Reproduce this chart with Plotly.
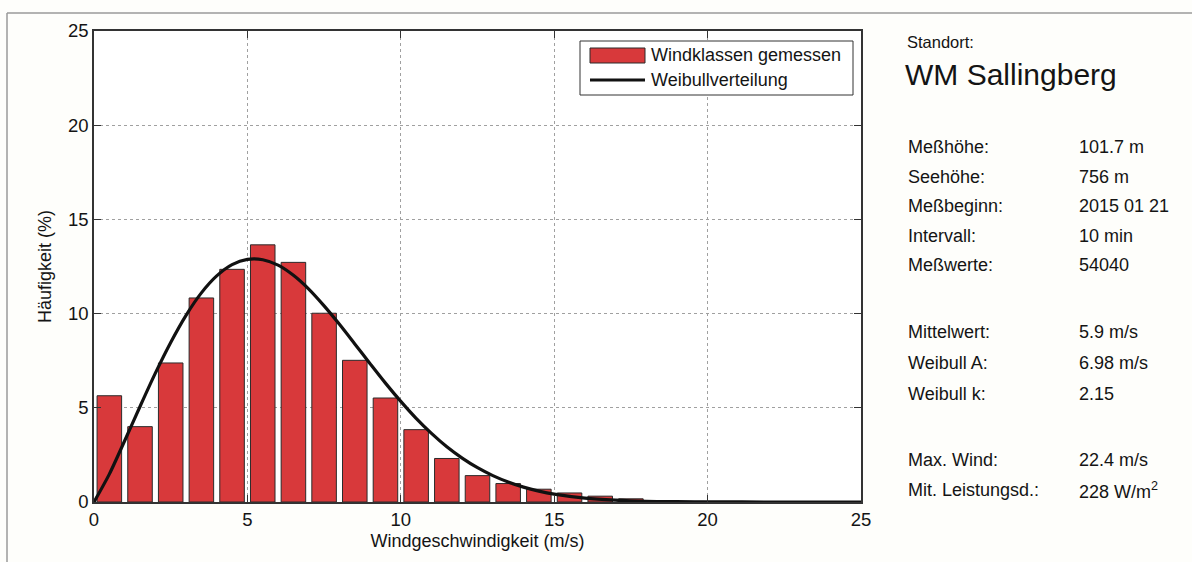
import plotly.graph_objects as go

# Wind speed classes (bin centres, m/s) and measured frequency (%)
wind_classes = [0.5, 1.5, 2.5, 3.5, 4.5, 5.5, 6.5, 7.5, 8.5, 9.5, 10.5, 11.5,
                12.5, 13.5, 14.5, 15.5, 16.5, 17.5, 18.5, 19.5, 20.5, 21.5,
                22.5, 23.5, 24.5]
measured_freq = [5.64, 4.0, 7.38, 10.83, 12.35, 13.65, 12.72, 10.02, 7.52, 5.52,
                 3.84, 2.31, 1.4, 0.98, 0.68, 0.48, 0.31, 0.17, 0.06, 0.03,
                 0.01, 0.01, 0.0, 0.0, 0.0]

# Weibull distribution curve (%)
weibull_x = [0, 0.5, 1, 1.5, 2, 2.5, 3, 3.5, 4, 4.5, 5, 5.5, 6, 6.5, 7, 7.5, 8,
             8.5, 9, 9.5, 10, 10.5, 11, 11.5, 12, 12.5, 13, 13.5, 14, 14.5, 15,
             16, 17, 18, 19, 20, 22, 25]
weibull_y = [0, 1.48, 3.25, 5.07, 6.84, 8.47, 9.91, 11.10, 12.00, 12.60, 12.88,
             12.86, 12.57, 12.03, 11.30, 10.41, 9.43, 8.39, 7.34, 6.31, 5.34,
             4.44, 3.64, 2.93, 2.33, 1.82, 1.40, 1.06, 0.79, 0.58, 0.42,
             0.21, 0.10, 0.04, 0.02, 0.01, 0.0, 0.0]

axis_ticks = [0, 5, 10, 15, 20, 25]

# Station information panel
site_caption = "Standort:"
site_name = "WM Sallingberg"
info_groups = [
    [("Meßhöhe:", "101.7 m"), ("Seehöhe:", "756 m"), ("Meßbeginn:", "2015 01 21"),
     ("Intervall:", "10 min"), ("Meßwerte:", "54040")],
    [("Mittelwert:", "5.9 m/s"), ("Weibull A:", "6.98 m/s"), ("Weibull k:", "2.15")],
    [("Max. Wind:", "22.4 m/s"), ("Mit. Leistungsd.:", "228 W/m<sup>2</sup>")],
]
legend_labels = ["Windklassen gemessen", "Weibullverteilung"]

# ---- layout geometry (pixels) ----
W, H = 1192, 562
PL, PR, PT, PB = 94, 861, 31, 502
FONT = "Liberation Sans, Arial, sans-serif"
TXT = "#141414"
BAR_COLOR = "#d8393b"
FS = 18


def fx(px):
    return (px - PL) / (PR - PL)


def fy(py):
    return (PB - py) / (PB - PT)


fig = go.Figure()
fig.add_trace(go.Bar(
    x=wind_classes, y=measured_freq, width=0.8,
    marker=dict(color=BAR_COLOR, line=dict(color="#2b2b2b", width=1)),
    name=legend_labels[0], showlegend=False,
))
fig.add_trace(go.Scatter(
    x=weibull_x, y=weibull_y, mode="lines",
    line=dict(color="#111111", width=3.2, shape="spline", smoothing=0.8),
    name=legend_labels[1], showlegend=False,
))

axis_common = dict(
    range=[0, 25], tickvals=axis_ticks, showgrid=True,
    gridcolor="#a0a0a0", griddash="dot", gridwidth=1,
    showline=True, mirror="ticks", linecolor="#333333", linewidth=1.5,
    ticks="inside", ticklen=7, tickcolor="#333333", zeroline=False,
    tickfont=dict(family=FONT, size=FS + 0.5, color=TXT),
)
fig.update_xaxes(**axis_common,
                 title=dict(text="Windgeschwindigkeit (m/s)", standoff=5,
                            font=dict(family=FONT, size=FS, color=TXT)))
fig.update_yaxes(**axis_common,
                 title=dict(text="Häufigkeit (%)", standoff=12,
                            font=dict(family=FONT, size=FS, color=TXT)))

shapes = []
# outer frame lines (top and left)
shapes.append(dict(type="line", xref="paper", yref="paper",
                   x0=fx(7), x1=fx(W), y0=fy(13), y1=fy(13),
                   line=dict(color="#9a9a9a", width=1.5)))
shapes.append(dict(type="line", xref="paper", yref="paper",
                   x0=fx(7), x1=fx(7), y0=fy(13), y1=fy(H),
                   line=dict(color="#9a9a9a", width=1.5)))
# legend box
shapes.append(dict(type="rect", xref="paper", yref="paper",
                   x0=fx(580), x1=fx(853), y0=fy(41), y1=fy(95),
                   fillcolor="white", line=dict(color="#333333", width=1)))
shapes.append(dict(type="rect", xref="paper", yref="paper",
                   x0=fx(590), x1=fx(645), y0=fy(48), y1=fy(63),
                   fillcolor=BAR_COLOR, line=dict(color="#2b2b2b", width=1)))
shapes.append(dict(type="line", xref="paper", yref="paper",
                   x0=fx(590), x1=fx(645), y0=fy(80), y1=fy(80),
                   line=dict(color="#111111", width=3)))

annotations = []
for label, py in zip(legend_labels, [55, 80]):
    annotations.append(dict(xref="paper", yref="paper", x=fx(649), y=fy(py),
                            xanchor="left", yanchor="middle", showarrow=False,
                            text=label, font=dict(family=FONT, size=FS, color=TXT)))

annotations.append(dict(xref="paper", yref="paper", x=fx(905), y=fy(42),
                        xanchor="left", yanchor="middle", showarrow=False,
                        text=site_caption, font=dict(family=FONT, size=16.5, color=TXT)))
annotations.append(dict(xref="paper", yref="paper", x=fx(903), y=fy(74),
                        xanchor="left", yanchor="middle", showarrow=False,
                        text=site_name, font=dict(family=FONT, size=30, color=TXT)))

group_tops = [147, 332, 460]
row_step = [29.5, 31, 30]
for rows, top, step in zip(info_groups, group_tops, row_step):
    for i, (lab, val) in enumerate(rows):
        py = top + i * step
        annotations.append(dict(xref="paper", yref="paper", x=fx(906), y=fy(py),
                                xanchor="left", yanchor="middle", showarrow=False,
                                text=lab, font=dict(family=FONT, size=FS, color=TXT)))
        annotations.append(dict(xref="paper", yref="paper", x=fx(1077), y=fy(py),
                                xanchor="left", yanchor="middle", showarrow=False,
                                text=val, font=dict(family=FONT, size=FS, color=TXT)))

fig.update_layout(
    width=W, height=H,
    margin=dict(l=PL, r=W - PR, t=PT, b=H - PB),
    paper_bgcolor="#fefefb", plot_bgcolor="white",
    bargap=0.2, showlegend=False,
    shapes=shapes, annotations=annotations,
)

fig.write_html("out.html")
